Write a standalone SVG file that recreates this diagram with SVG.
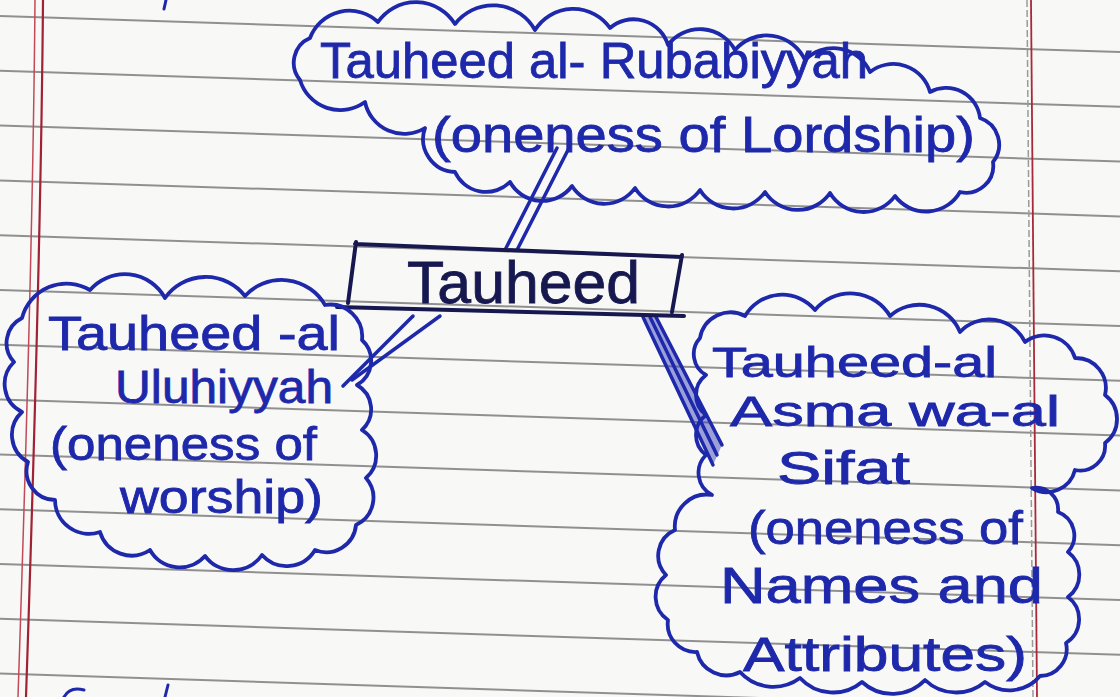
<svg xmlns="http://www.w3.org/2000/svg" width="1120" height="697" viewBox="0 0 1120 697">
<defs>
<style>
.rule{stroke:#7f7f7f;stroke-width:2;opacity:.85}
.cloud{fill:none;stroke:#1e28aa;stroke-width:3.8;stroke-linejoin:round;stroke-linecap:round}
.ink{fill:#1e28aa;stroke:#1e28aa;stroke-width:.8;font-family:"Liberation Sans",Arial,sans-serif}
.dark{fill:#16184f;stroke:#16184f;stroke-width:.8;font-family:"Liberation Sans",Arial,sans-serif}
.conn{stroke:#1e28aa;stroke-width:3.5;stroke-linecap:round;fill:none}
.box{stroke:#16184f;stroke-width:4;stroke-linecap:round;fill:none}
</style>
</defs>
<rect width="1120" height="697" fill="#f8f8f6"/>
<g id="paper">
<line class="rule" x1="0" y1="16" x2="1120" y2="52"/>
<line class="rule" x1="0" y1="70.8" x2="1120" y2="106.8"/>
<line class="rule" x1="0" y1="125.6" x2="1120" y2="161.6"/>
<line class="rule" x1="0" y1="180.4" x2="1120" y2="216.4"/>
<line class="rule" x1="0" y1="235.2" x2="1120" y2="271.2"/>
<line class="rule" x1="0" y1="290" x2="1120" y2="326"/>
<line class="rule" x1="0" y1="344.8" x2="1120" y2="380.8"/>
<line class="rule" x1="0" y1="399.6" x2="1120" y2="435.6"/>
<line class="rule" x1="0" y1="454.4" x2="1120" y2="490.4"/>
<line class="rule" x1="0" y1="509.2" x2="1120" y2="545.2"/>
<line class="rule" x1="0" y1="564" x2="1120" y2="600"/>
<line class="rule" x1="0" y1="618.8" x2="1120" y2="654.8"/>
<line class="rule" x1="0" y1="673.6" x2="1120" y2="709.6"/>
<path d="M35,0 Q33,250 18,697" stroke="#c04a58" stroke-width="1.5" fill="none"/>
<path d="M43,0 Q41,250 26,697" stroke="#a02234" stroke-width="2.2" fill="none"/>
<path d="M1027,0 L1033,697" stroke="#9a9a9a" stroke-width="1.5" stroke-dasharray="7 3" fill="none"/>
<path d="M1031,0 L1037,697" stroke="#a82a3a" stroke-width="1.8" fill="none"/>
<path d="M166,0 L164,9" stroke="#1e28aa" stroke-width="3" fill="none" stroke-linecap="round"/>
<path d="M64,697 Q70,686 84,690" stroke="#1e28aa" stroke-width="3" fill="none" stroke-linecap="round"/>
<path d="M165,697 L168,685" stroke="#1e28aa" stroke-width="3" fill="none" stroke-linecap="round"/>
</g>
<g id="connectors">
<line class="conn" x1="505" y1="250" x2="557" y2="148"/>
<line class="conn" x1="517" y1="250" x2="569" y2="148"/>
<line class="conn" x1="413" y1="316" x2="343" y2="386"/>
<line class="conn" x1="440" y1="316" x2="352" y2="380"/>
<polygon points="643,317 656,317 722,445 713,465" fill="#2a34b8" opacity=".45"/>
<line class="conn" x1="643" y1="317" x2="713" y2="465"/>
<line class="conn" x1="656" y1="317" x2="722" y2="445"/>
<line class="conn" x1="650" y1="317" x2="717" y2="455" stroke-width="2"/>
</g>
<g id="node-tauheed">
<path class="box" d="M355,244 L682,257 M682,255 L672,312 M337,307 L684,316 M356,242 L348,303"/>
<text class="dark" x="407" y="303" font-size="60" textLength="233" lengthAdjust="spacingAndGlyphs">Tauheed</text>
</g>
<g id="node-rububiyyah">
<path class="cloud" d="M300,80 A27,27 0 0 1 310,38 A42,42 0 0 1 378,22 A46,46 0 0 1 455,24 A48,48 0 0 1 535,30 A45,45 0 0 1 610,28 A36,36 0 0 1 668,45 A40,40 0 0 1 735,50 A42,42 0 0 1 805,60 A40,40 0 0 1 870,72 A38,38 0 0 1 930,92 A34,34 0 0 1 980,118 A28,28 0 0 1 993,162 A27,27 0 0 1 960,192 A39,39 0 0 1 895,196 A39,39 0 0 1 830,193 A39,39 0 0 1 765,192 A39,39 0 0 1 700,190 A39,39 0 0 1 635,188 A38,38 0 0 1 572,186 A37,37 0 0 1 510,182 A34,34 0 0 1 455,172 A33,33 0 0 1 425,128 A40,40 0 0 1 365,102 A42,42 0 0 1 300,80 Z"/>
<text class="ink" x="320" y="78" font-size="50" textLength="548" lengthAdjust="spacingAndGlyphs">Tauheed al- Rubabiyyah</text>
<text class="ink" x="432" y="152" font-size="50" textLength="543" lengthAdjust="spacingAndGlyphs">(oneness of Lordship)</text>
</g>
<g id="node-uluhiyyah">
<path class="cloud" d="M22,318 A46,46 0 0 1 90,290 A46,46 0 0 1 165,298 A50,50 0 0 1 245,296 A50,50 0 0 1 325,305 A32,32 0 0 1 362,340 A28,28 0 0 1 357,385 A28,28 0 0 1 362,430 A30,30 0 0 1 366,478 A30,30 0 0 1 356,525 A30,30 0 0 1 315,550 A33,33 0 0 1 262,555 A35,35 0 0 1 205,556 A34,34 0 0 1 150,550 A33,33 0 0 1 100,532 A34,34 0 0 1 55,500 A29,29 0 0 1 28,462 A31,31 0 0 1 22,412 A31,31 0 0 1 14,362 A28,28 0 0 1 22,318 Z"/>
<text class="ink" x="48" y="350" font-size="48" textLength="292" lengthAdjust="spacingAndGlyphs">Tauheed -al</text>
<text class="ink" x="115" y="403" font-size="46" textLength="218" lengthAdjust="spacingAndGlyphs">Uluhiyyah</text>
<text class="ink" x="50" y="460" font-size="46" textLength="267" lengthAdjust="spacingAndGlyphs">(oneness of</text>
<text class="ink" x="120" y="513" font-size="46" textLength="203" lengthAdjust="spacingAndGlyphs">worship)</text>
</g>
<g id="node-asma-sifat">
<path class="cloud" d="M700,338 A31,31 0 0 1 745,316 A43,43 0 0 1 815,310 A46,46 0 0 1 890,316 A44,44 0 0 1 960,332 A40,40 0 0 1 1025,342 A32,32 0 0 1 1075,358 A30,30 0 0 1 1105,395 A30,30 0 0 1 1105,443 A25,25 0 0 1 1075,470 A29,29 0 0 1 1032,488 A22,22 0 0 1 1058,512 A25,25 0 0 1 1068,552 A28,28 0 0 1 1068,597 A28,28 0 0 1 1066,643 A27,27 0 0 1 1040,676 A40,40 0 0 1 985,682 A45,45 0 0 1 925,680 A45,45 0 0 1 862,682 A45,45 0 0 1 800,678 A45,45 0 0 1 740,672 A30,30 0 0 1 697,652 A28,28 0 0 1 668,620 A28,28 0 0 1 666,575 A28,28 0 0 1 675,530 A32,32 0 0 1 712,495 A25,25 0 0 1 706,455 A25,25 0 0 1 706,415 A25,25 0 0 1 706,375 A24,24 0 0 1 700,338 Z"/>
<text class="ink" x="712" y="377" font-size="42" textLength="285" lengthAdjust="spacingAndGlyphs">Tauheed-al</text>
<text class="ink" x="730" y="426" font-size="42" textLength="330" lengthAdjust="spacingAndGlyphs">Asma wa-al</text>
<text class="ink" x="777" y="484" font-size="46" textLength="133" lengthAdjust="spacingAndGlyphs">Sifat</text>
<text class="ink" x="748" y="544" font-size="46" textLength="275" lengthAdjust="spacingAndGlyphs">(oneness of</text>
<text class="ink" x="720" y="603" font-size="50" textLength="323" lengthAdjust="spacingAndGlyphs">Names and</text>
<text class="ink" x="743" y="671" font-size="48" textLength="284" lengthAdjust="spacingAndGlyphs">Attributes)</text>
</g>
</svg>
